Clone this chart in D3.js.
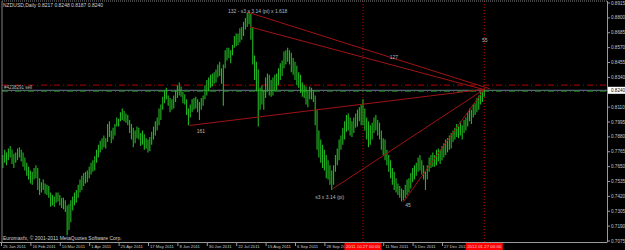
<!DOCTYPE html>
<html>
<head>
<meta charset="utf-8">
<script src="https://cdn.jsdelivr.net/npm/d3@7"></script>
<style>
  body { margin: 0; background: #000; }
  svg { display: block; }
  text { font-family: "Liberation Sans", Arial, sans-serif; }
</style>
</head>
<body>
<svg id="chart"></svg>
<script>
var symbolTitle = "NZDUSD,Daily  0.8217 0.8248 0.8187 0.8240"
var copyright = "Euromaxfx, \u00a9 2001-2011 MetaQuotes Software Corp."

// daily highs / lows, 25 Jan 2011 .. 27 Jan 2012 (weekdays)
var highs = [
  0.772, 0.774, 0.778, 0.776, 0.779, 0.781, 0.778, 0.775, 0.776, 0.779,
  0.780, 0.778, 0.776, 0.772, 0.768, 0.765, 0.762, 0.761, 0.764, 0.766,
  0.764, 0.756, 0.753, 0.755, 0.752, 0.751, 0.750, 0.745, 0.743, 0.742,
  0.745, 0.745, 0.743, 0.741, 0.741, 0.739, 0.735, 0.736, 0.739, 0.742,
  0.745, 0.747, 0.751, 0.755, 0.758, 0.760, 0.761, 0.762, 0.765, 0.768,
  0.770, 0.773, 0.778, 0.782, 0.785, 0.787, 0.789, 0.787, 0.798, 0.800,
  0.793, 0.795, 0.798, 0.803, 0.802, 0.807, 0.810, 0.808, 0.806, 0.805,
  0.801, 0.798, 0.795, 0.793, 0.796, 0.795, 0.791, 0.793, 0.790, 0.787,
  0.786, 0.788, 0.792, 0.796, 0.800, 0.803, 0.810, 0.813, 0.819, 0.824,
  0.826, 0.820, 0.818, 0.817, 0.820, 0.824, 0.828, 0.830, 0.827, 0.823,
  0.821, 0.817, 0.810, 0.813, 0.817, 0.818, 0.819, 0.817, 0.815, 0.818,
  0.820, 0.828, 0.832, 0.834, 0.836, 0.837, 0.838, 0.840, 0.844, 0.846,
  0.841, 0.844, 0.855, 0.857, 0.857, 0.855, 0.859, 0.866, 0.868, 0.868,
  0.872, 0.873, 0.877, 0.880, 0.884, 0.885, 0.883, 0.873, 0.851, 0.846,
  0.840, 0.826, 0.828, 0.824, 0.834, 0.837, 0.836, 0.832, 0.834, 0.836,
  0.837, 0.841, 0.845, 0.847, 0.854, 0.855, 0.857, 0.855, 0.853, 0.849,
  0.846, 0.843, 0.838, 0.836, 0.830, 0.828, 0.827, 0.824, 0.827, 0.826,
  0.824, 0.820, 0.809, 0.793, 0.786, 0.782, 0.778, 0.774, 0.770, 0.766,
  0.762, 0.766, 0.774, 0.779, 0.786, 0.789, 0.795, 0.800, 0.805, 0.806,
  0.803, 0.800, 0.803, 0.806, 0.809, 0.811, 0.813, 0.817, 0.810, 0.803,
  0.800, 0.797, 0.799, 0.803, 0.805, 0.801, 0.799, 0.793, 0.787, 0.786,
  0.778, 0.774, 0.770, 0.764, 0.761, 0.756, 0.752, 0.750, 0.748, 0.747,
  0.751, 0.755, 0.756, 0.760, 0.764, 0.766, 0.768, 0.772, 0.774, 0.770,
  0.766, 0.761, 0.766, 0.772, 0.774, 0.776, 0.774, 0.778, 0.779, 0.778,
  0.781, 0.783, 0.786, 0.787, 0.789, 0.791, 0.793, 0.795, 0.798, 0.796,
  0.800, 0.797, 0.801, 0.803, 0.807, 0.810, 0.809, 0.813, 0.814, 0.818,
  0.820, 0.823, 0.824, 0.825
]
var lows = [
  0.761, 0.764, 0.768, 0.766, 0.770, 0.772, 0.767, 0.764, 0.768, 0.770,
  0.772, 0.769, 0.765, 0.762, 0.758, 0.755, 0.752, 0.751, 0.755, 0.756,
  0.747, 0.743, 0.745, 0.747, 0.744, 0.743, 0.741, 0.734, 0.735, 0.734,
  0.737, 0.738, 0.735, 0.733, 0.732, 0.730, 0.712, 0.716, 0.722, 0.731,
  0.735, 0.737, 0.741, 0.745, 0.747, 0.750, 0.752, 0.753, 0.756, 0.759,
  0.761, 0.762, 0.768, 0.772, 0.776, 0.778, 0.780, 0.779, 0.784, 0.788,
  0.783, 0.786, 0.789, 0.796, 0.796, 0.800, 0.801, 0.800, 0.799, 0.797,
  0.791, 0.786, 0.780, 0.783, 0.787, 0.786, 0.781, 0.782, 0.778, 0.779,
  0.776, 0.777, 0.782, 0.786, 0.789, 0.793, 0.797, 0.801, 0.809, 0.814,
  0.817, 0.812, 0.807, 0.809, 0.810, 0.815, 0.818, 0.820, 0.819, 0.814,
  0.813, 0.805, 0.797, 0.803, 0.807, 0.809, 0.810, 0.807, 0.801, 0.809,
  0.812, 0.817, 0.820, 0.823, 0.826, 0.827, 0.829, 0.830, 0.834, 0.835,
  0.829, 0.812, 0.841, 0.847, 0.849, 0.845, 0.851, 0.857, 0.858, 0.859,
  0.861, 0.863, 0.866, 0.871, 0.873, 0.875, 0.863, 0.844, 0.832, 0.823,
  0.796, 0.809, 0.813, 0.809, 0.818, 0.823, 0.820, 0.819, 0.820, 0.823,
  0.824, 0.828, 0.832, 0.835, 0.841, 0.844, 0.846, 0.844, 0.838, 0.836,
  0.832, 0.828, 0.826, 0.822, 0.819, 0.818, 0.813, 0.811, 0.817, 0.817,
  0.815, 0.797, 0.778, 0.772, 0.768, 0.764, 0.762, 0.756, 0.755, 0.751,
  0.747, 0.751, 0.761, 0.766, 0.770, 0.778, 0.782, 0.786, 0.792, 0.793,
  0.789, 0.788, 0.791, 0.795, 0.796, 0.800, 0.797, 0.797, 0.793, 0.786,
  0.780, 0.782, 0.786, 0.791, 0.793, 0.789, 0.786, 0.778, 0.774, 0.770,
  0.766, 0.761, 0.756, 0.751, 0.747, 0.745, 0.743, 0.741, 0.738, 0.739,
  0.741, 0.743, 0.745, 0.748, 0.753, 0.755, 0.758, 0.761, 0.762, 0.759,
  0.755, 0.747, 0.755, 0.761, 0.764, 0.765, 0.765, 0.766, 0.769, 0.767,
  0.770, 0.772, 0.774, 0.776, 0.778, 0.779, 0.784, 0.786, 0.788, 0.787,
  0.789, 0.786, 0.791, 0.793, 0.796, 0.800, 0.798, 0.803, 0.805, 0.807,
  0.809, 0.813, 0.815, 0.819
]

var priceTicks = ["0.8915", "0.8800", "0.8685", "0.8570", "0.8455", "0.8340",
  "0.8110", "0.7995", "0.7880", "0.7765", "0.7650", "0.7535", "0.7420", "0.7305", "0.7190", "0.7075"]
// 20 Oct 2011 sits under the marker box, so it is not listed
var dateTicks = ["25 Jan 2011", "16 Feb 2011", "10 Mar 2011", "1 Apr 2011", "25 Apr 2011",
  "17 May 2011", "8 Jun 2011", "30 Jun 2011", "22 Jul 2011", "15 Aug 2011", "6 Sep 2011",
  "28 Sep 2011", "11 Nov 2011", "5 Dec 2011", "27 Dec 2011"]

var bidPrice = 0.8240
var orderPrice = 0.8233
var stopPrice = 0.8280
var orderLabel = "#4238291 sell"

var markedDays = ["27 Oct 2011", "27 Jan 2012"]
var markedLabels = ["2011.10.27 00:00", "2012.01.27 00:00"]

// trend lines: [bar from, price from, bar to, price to]
var trendLines = [
  [134, 0.8845, 266, 0.8252],
  [135.5, 0.8730, 263, 0.8245],
  [102.5, 0.7968, 263, 0.8248],
  [180.5, 0.7478, 263, 0.8248],
  [219, 0.7378, 263, 0.8248]
]
var noteTexts = ["132 - s3 x 3.14  (pi) x 1.618", "127", "55", "161", "s3 x 3.14 (pi)", "45"]
var noteBars = [123.5, 211.5, 261.8, 106.5, 171, 220]
var notePrices = [0.8853, 0.8497, 0.8629, 0.7925, 0.7415, 0.7353]

var W = 625, H = 250
var pLeft = 2, pRight = 607, pTop = 1, pBottom = 242

var svg = d3.select("#chart").attr("width", W).attr("height", H)
svg.append("rect").attr("width", W).attr("height", H).attr("fill", "#000")

var dates = d3.timeDay.range(new Date(2011, 0, 25), new Date(2012, 0, 28))
  .filter(d => d.getDay() !== 0 && d.getDay() !== 6)
var dayName = d => d.getDate() + " " + d3.timeFormat("%b %Y")(d)
var dayIndex = s => dates.findIndex(d => dayName(d) === s)

var x = d3.scaleLinear().domain([0, dates.length - 1]).range([1, 1 + (dates.length - 1) * 1.8375])
var y = d3.scaleLinear().domain([0.7075, 0.8915]).range([241, 3])

svg.append("clipPath").attr("id", "clip").append("rect")
  .attr("x", pLeft).attr("y", pTop).attr("width", pRight - pLeft).attr("height", pBottom - pTop)
var plot = svg.append("g").attr("clip-path", "url(#clip)")

// vertical dotted markers
plot.selectAll("line.vmark").data(markedDays).enter().append("line")
  .attr("x1", d => x(dayIndex(d))).attr("x2", d => x(dayIndex(d)))
  .attr("y1", pTop).attr("y2", pBottom)
  .attr("stroke", "#c00000").attr("stroke-dasharray", "1 2")

// stop line, bid line, order line
plot.append("line").attr("x1", pLeft).attr("x2", pRight)
  .attr("y1", y(stopPrice)).attr("y2", y(stopPrice))
  .attr("stroke", "#b00000").attr("stroke-dasharray", "6 3 1 3")
plot.append("line").attr("x1", pLeft).attr("x2", pRight)
  .attr("y1", y(bidPrice)).attr("y2", y(bidPrice))
  .attr("stroke", "#6f7f8f")
plot.append("line").attr("x1", pLeft).attr("x2", pRight)
  .attr("y1", y(orderPrice)).attr("y2", y(orderPrice))
  .attr("stroke", "#1d8a1d").attr("stroke-dasharray", "6 3 1 3")

// bars
var bars = dates.map((d, i) => ({ i: i, high: highs[i], low: lows[i] }))
plot.selectAll("line.bar").data(bars).enter().append("line")
  .attr("class", "bar")
  .attr("x1", d => x(d.i)).attr("x2", d => x(d.i))
  .attr("y1", d => y(d.high)).attr("y2", d => y(d.low))
  .attr("stroke", "#22b822").attr("stroke-width", 1.1)

// trend lines
plot.selectAll("line.trend").data(trendLines).enter().append("line")
  .attr("x1", d => x(d[0])).attr("y1", d => y(d[1]))
  .attr("x2", d => x(d[2])).attr("y2", d => y(d[3]))
  .attr("stroke", "#a01414").attr("stroke-width", 1)

// notes
plot.selectAll("text.note").data(noteTexts).enter().append("text")
  .attr("x", (d, i) => x(noteBars[i])).attr("y", (d, i) => y(notePrices[i]))
  .attr("dy", "0.35em")
  .attr("fill", "#b8b8b8").style("font-size", "5px")
  .text(d => d)

plot.append("text").attr("x", 4).attr("y", y(orderPrice) - 2.5)
  .attr("fill", "#b8b8b8").style("font-size", "4.5px").text(orderLabel)

svg.append("text").attr("x", 3).attr("y", 6.5)
  .attr("fill", "#d0d0d0").style("font-size", "5px").text(symbolTitle)
svg.append("text").attr("x", 3).attr("y", 239.5)
  .attr("fill", "#d0d0d0").style("font-size", "5px").text(copyright)

// frame
svg.append("line").attr("x1", pLeft).attr("x2", pRight).attr("y1", pTop).attr("y2", pTop)
  .attr("stroke", "#808080").attr("stroke-dasharray", "1 1")
svg.append("line").attr("x1", pLeft).attr("x2", pLeft).attr("y1", pTop).attr("y2", pBottom)
  .attr("stroke", "#808080")
svg.append("line").attr("x1", pRight + 0.5).attr("x2", pRight + 0.5).attr("y1", pTop).attr("y2", pBottom)
  .attr("stroke", "#9a9a9a")
svg.append("line").attr("x1", 0).attr("x2", pRight + 0.5).attr("y1", pBottom + 0.5).attr("y2", pBottom + 0.5)
  .attr("stroke", "#9a9a9a")

// price axis
var pAxis = svg.append("g")
pAxis.selectAll("line").data(priceTicks).enter().append("line")
  .attr("x1", pRight).attr("x2", pRight + 3)
  .attr("y1", d => y(+d)).attr("y2", d => y(+d))
  .attr("stroke", "#9a9a9a")
pAxis.selectAll("text").data(priceTicks).enter().append("text")
  .attr("x", pRight + 4).attr("y", d => y(+d)).attr("dy", "0.35em")
  .attr("fill", "#c8c8c8").style("font-size", "4.6px")
  .text(d => d)

var bidBox = svg.append("g").attr("transform", `translate(${pRight + 1},${y(bidPrice)})`)
bidBox.append("rect").attr("x", 0).attr("y", -3.5).attr("width", 17).attr("height", 7).attr("fill", "#fff")
bidBox.append("text").attr("x", 3).attr("dy", "0.35em").attr("fill", "#000")
  .style("font-size", "4.6px").text(bidPrice.toFixed(4))

// date axis
var dAxis = svg.append("g")
dAxis.selectAll("line").data(dateTicks).enter().append("line")
  .attr("x1", d => x(dayIndex(d)) + 0.5).attr("x2", d => x(dayIndex(d)) + 0.5)
  .attr("y1", pBottom).attr("y2", pBottom + 4)
  .attr("stroke", "#9a9a9a")
dAxis.selectAll("text").data(dateTicks).enter().append("text")
  .attr("x", d => x(dayIndex(d)) + 2).attr("y", pBottom + 4.5).attr("dy", "0.35em")
  .attr("fill", "#c8c8c8").style("font-size", "4.2px")
  .text(d => d)

var marks = dAxis.selectAll("g.mark").data(markedDays).enter().append("g")
  .attr("transform", d => `translate(${x(dayIndex(d))},${pBottom + 1})`)
marks.append("rect").attr("x", -18.5).attr("y", 0).attr("width", 37).attr("height", 7).attr("fill", "#ff0000")
marks.append("text").attr("text-anchor", "middle").attr("y", 3.5).attr("dy", "0.35em")
  .attr("fill", "#ffd0d0").style("font-size", "4.4px")
  .text((d, i) => markedLabels[i])
</script>
</body>
</html>
